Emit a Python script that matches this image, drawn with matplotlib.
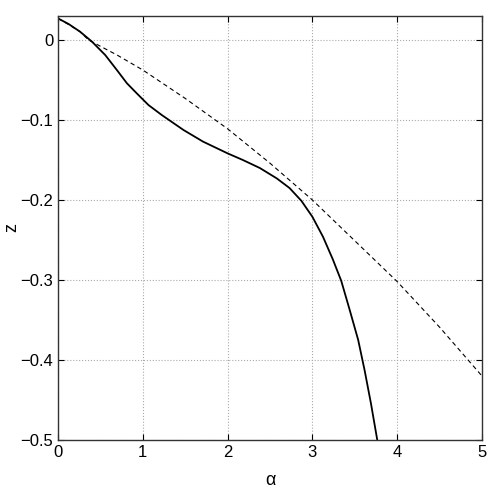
import matplotlib.pyplot as plt

# values
alpha_solid = [0, 0.125, 0.26, 0.40, 0.557, 0.694, 0.812, 0.929, 1.067, 1.224, 1.48,
               1.71, 2.0, 2.18, 2.38, 2.58, 2.73, 2.87, 3.0, 3.125, 3.24, 3.34, 3.44,
               3.54, 3.615, 3.69, 3.765]
z_solid = [0.027, 0.020, 0.0104, -0.002, -0.0188, -0.0375, -0.054, -0.0667, -0.0813,
           -0.0938, -0.1125, -0.127, -0.1417, -0.150, -0.160, -0.173, -0.185, -0.201,
           -0.221, -0.246, -0.274, -0.301, -0.3375, -0.375, -0.4125, -0.454, -0.5]

alpha_dash = [0, 0.13, 0.26, 0.36, 0.7, 1.0, 1.5, 2.0, 2.5, 3.0, 3.5, 4.0, 4.5, 5.0]
z_dash = [0.027, 0.019, 0.0104, 0.0, -0.019, -0.0375, -0.073, -0.111, -0.154, -0.200,
          -0.251, -0.302, -0.359, -0.42]

xticks = [0, 1, 2, 3, 4, 5]
yticks = [0, -0.1, -0.2, -0.3, -0.4, -0.5]
ytick_labels = ['0', '\u22120.1', '\u22120.2', '\u22120.3', '\u22120.4', '\u22120.5']

plt.rcParams['font.family'] = ['Liberation Sans', 'DejaVu Sans']

fig = plt.figure(figsize=(4.91, 4.91), dpi=100)
ax = fig.add_axes([58 / 491, 51 / 491, 424 / 491, 424 / 491])

ax.plot(alpha_solid, z_solid, color='black', linewidth=1.3)
ax.plot(alpha_dash, z_dash, color='black', linewidth=0.8, dashes=(4, 3))

ax.set_xlim(0, 5)
ax.set_ylim(-0.5, 0.03)
ax.set_xticks(xticks)
ax.set_yticks(yticks)
ax.set_xticklabels([str(t) for t in xticks])
ax.set_yticklabels(ytick_labels)
ax.tick_params(direction='in', top=True, right=True, labelsize=12, length=4)
ax.grid(True, linestyle=':', color='#aaaaaa', linewidth=0.8)
for s in ax.spines.values():
    s.set_color('#333333')
    s.set_linewidth(1.0)

ax.set_xlabel('\u03b1', fontsize=13)
ax.set_ylabel('z', fontsize=13)
ax.xaxis.set_label_coords(0.5, -0.075)
ax.yaxis.set_label_coords(-0.09, 0.5)

fig.savefig('out.png', dpi=100)
